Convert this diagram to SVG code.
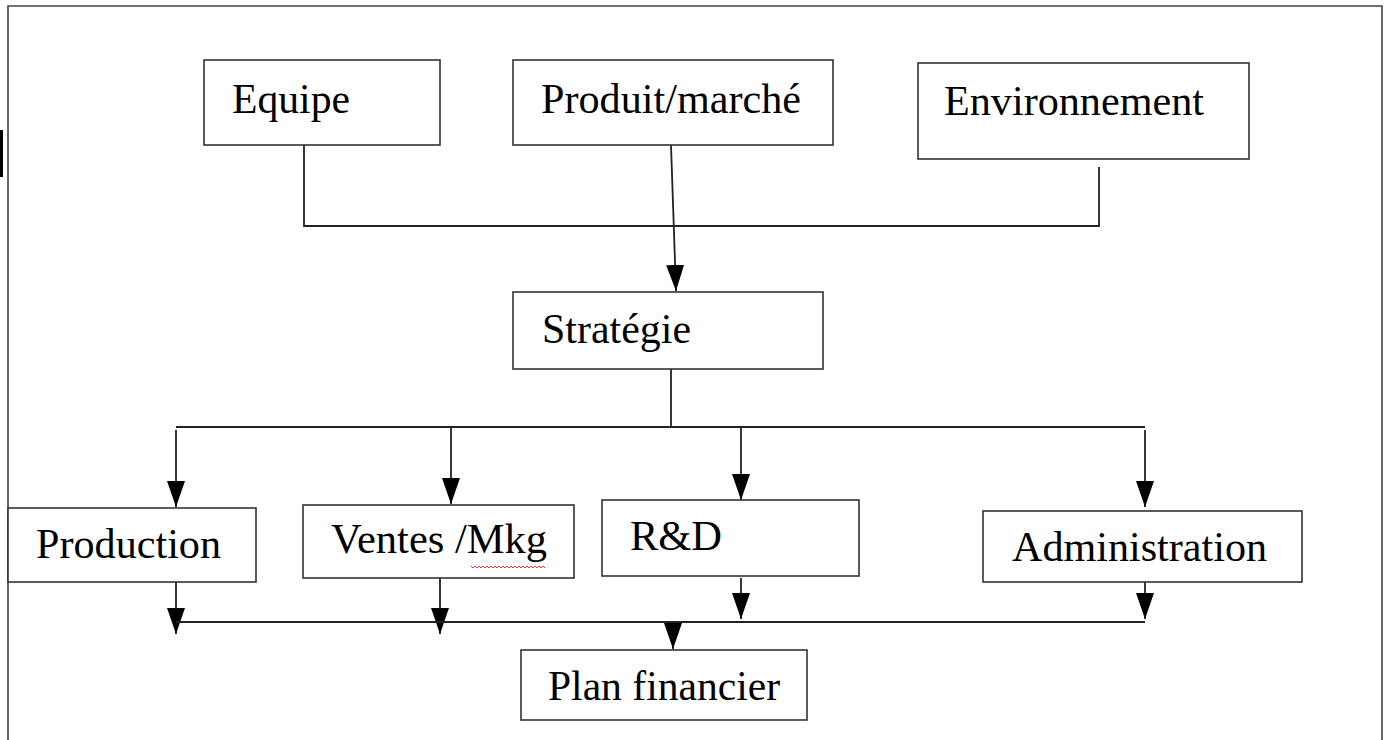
<svg xmlns="http://www.w3.org/2000/svg" width="1389" height="740" viewBox="0 0 1389 740">
<defs>
<marker id="ah" markerUnits="userSpaceOnUse" markerWidth="18" markerHeight="26" viewBox="0 0 18 26" refX="9" refY="26" orient="auto-start-reverse">
<path d="M0,0 L18,0 L9,26 Z" fill="#000" transform="rotate(0)"/>
</marker>
<marker id="arr" markerUnits="userSpaceOnUse" markerWidth="26" markerHeight="18" viewBox="0 0 26 18" refX="26" refY="9" orient="auto">
<path d="M0,0 L26,9 L0,18 Z" fill="#000"/>
</marker>
</defs>
<style>
.box{fill:#fff;stroke:#333;stroke-width:1.6}
.lbl{font-family:"Liberation Serif","Times New Roman",serif;font-size:43px;fill:#000}
.con{fill:none;stroke:#222;stroke-width:1.8}
.arw{fill:none;stroke:#222;stroke-width:1.8;marker-end:url(#arr)}
</style>
<rect width="1389" height="740" fill="#fff"/>
<path d="M8,740 V6 H1382 V740" fill="none" stroke="#444" stroke-width="1.6"/>
<rect x="0" y="130" width="3" height="47" fill="#000"/>

<g id="connectors">
<path class="con" d="M304,145 V226 H1099 V167"/>
<path class="arw" d="M671,145 L676,291"/>
<path class="con" d="M671,369 V427"/>
<path class="con" d="M176,427 H1145"/>
<path class="arw" d="M176,430 V507"/>
<path class="arw" d="M451,427 V504"/>
<path class="arw" d="M741,427 V500"/>
<path class="arw" d="M1145,430 V507"/>
<path class="arw" d="M176,582 V634"/>
<path class="arw" d="M440,578 V634"/>
<path class="arw" d="M741,578 V619"/>
<path class="arw" d="M1145,578 V619"/>
<path class="con" d="M176,622 H1145"/>
<path class="arw" d="M673,622 V649"/>
</g>

<g id="equipe"><rect class="box" x="204" y="60" width="236" height="85"/><text class="lbl" x="232" y="113" textLength="118" lengthAdjust="spacingAndGlyphs">Equipe</text></g>
<g id="produit"><rect class="box" x="513" y="60" width="320" height="85"/><text class="lbl" x="541" y="113" textLength="260" lengthAdjust="spacingAndGlyphs">Produit/marché</text></g>
<g id="environnement"><rect class="box" x="918" y="63" width="331" height="96"/><text class="lbl" x="944" y="115" textLength="260" lengthAdjust="spacingAndGlyphs">Environnement</text></g>
<g id="strategie"><rect class="box" x="513" y="292" width="310" height="77"/><text class="lbl" x="542" y="343" textLength="149" lengthAdjust="spacingAndGlyphs">Stratégie</text></g>
<g id="production"><rect class="box" x="8" y="508" width="248" height="74"/><text class="lbl" x="36" y="558" textLength="185" lengthAdjust="spacingAndGlyphs">Production</text></g>
<g id="ventes"><rect class="box" x="303" y="505" width="271" height="73"/><text class="lbl" x="331" y="553" textLength="216" lengthAdjust="spacingAndGlyphs">Ventes /Mkg</text><path d="M471,566 l2,2 l2,-2 l2,2 l2,-2 l2,2 l2,-2 l2,2 l2,-2 l2,2 l2,-2 l2,2 l2,-2 l2,2 l2,-2 l2,2 l2,-2 l2,2 l2,-2 l2,2 l2,-2 l2,2 l2,-2 l2,2 l2,-2 l2,2 l2,-2 l2,2 l2,-2 l2,2 l2,-2 l2,2 l2,-2 l2,2 l2,-2 l2,2 l2,-2 l2,2" fill="none" stroke="#e33" stroke-width="1"/></g>
<g id="rd"><rect class="box" x="602" y="500" width="257" height="76"/><text class="lbl" x="630" y="550" textLength="92" lengthAdjust="spacingAndGlyphs">R&amp;D</text></g>
<g id="administration"><rect class="box" x="983" y="511" width="319" height="71"/><text class="lbl" x="1012" y="561" textLength="255" lengthAdjust="spacingAndGlyphs">Administration</text></g>
<g id="plan"><rect class="box" x="521" y="650" width="286" height="70"/><text class="lbl" x="548" y="700" textLength="232" lengthAdjust="spacingAndGlyphs">Plan financier</text></g>
</svg>
